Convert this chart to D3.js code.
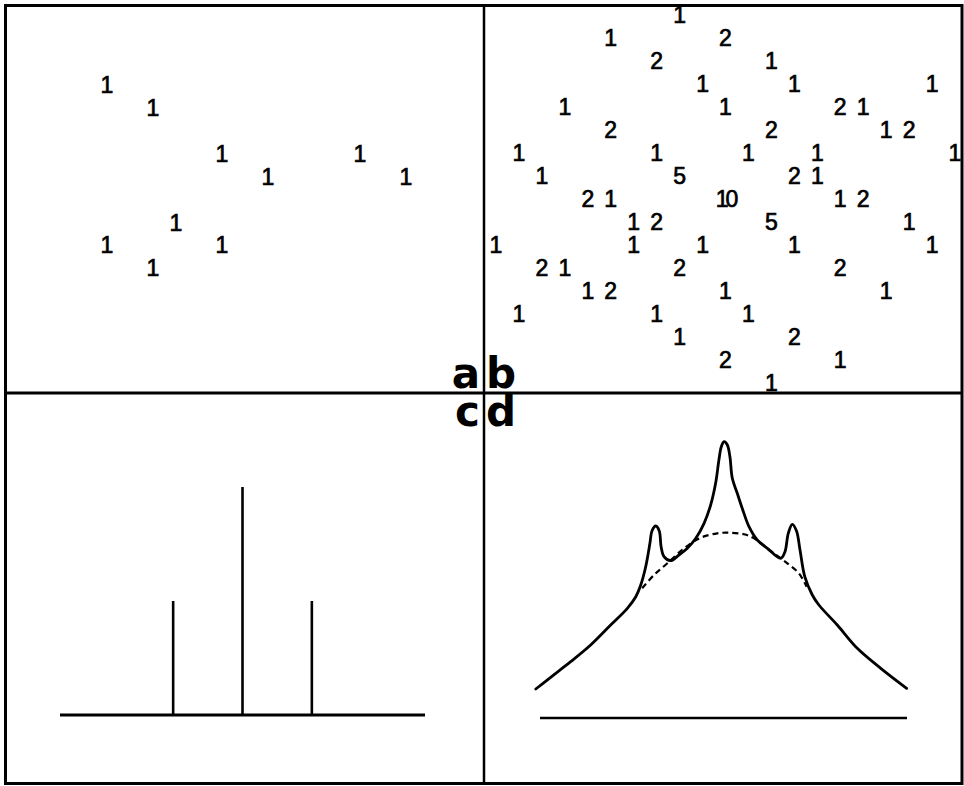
<!DOCTYPE html>
<html>
<head>
<meta charset="utf-8">
<script src="https://cdn.jsdelivr.net/npm/d3@7"></script>
<style>
  html, body { margin: 0; padding: 0; background: #fff; }
  svg { display: block; }
</style>
</head>
<body>
<svg id="canvas"></svg>
<script>
const width = 964
const height = 786

// panel a: lattice [col, row, count]
const pointsA = [
  [0, 0, "1"], [2, 1, "1"], [5, 3, "1"], [11, 3, "1"], [7, 4, "1"], [13, 4, "1"],
  [3, 6, "1"], [0, 7, "1"], [5, 7, "1"], [2, 8, "1"]
]

// panel b: lattice [col, row, count]
const pointsB = [
  [8, 0, "1"],
  [5, 1, "1"], [10, 1, "2"],
  [7, 2, "2"], [12, 2, "1"],
  [9, 3, "1"], [13, 3, "1"], [19, 3, "1"],
  [3, 4, "1"], [10, 4, "1"], [15, 4, "2"], [16, 4, "1"],
  [5, 5, "2"], [12, 5, "2"], [17, 5, "1"], [18, 5, "2"],
  [1, 6, "1"], [7, 6, "1"], [11, 6, "1"], [14, 6, "1"], [20, 6, "1"],
  [2, 7, "1"], [8, 7, "5"], [13, 7, "2"], [14, 7, "1"],
  [4, 8, "2"], [5, 8, "1"], [10, 8, "10"], [15, 8, "1"], [16, 8, "2"],
  [6, 9, "1"], [7, 9, "2"], [12, 9, "5"], [18, 9, "1"],
  [0, 10, "1"], [6, 10, "1"], [9, 10, "1"], [13, 10, "1"], [19, 10, "1"],
  [2, 11, "2"], [3, 11, "1"], [8, 11, "2"], [15, 11, "2"],
  [4, 12, "1"], [5, 12, "2"], [10, 12, "1"], [17, 12, "1"],
  [1, 13, "1"], [7, 13, "1"], [11, 13, "1"],
  [8, 14, "1"], [13, 14, "2"],
  [10, 15, "2"], [15, 15, "1"],
  [12, 16, "1"]
]

// panel c: stick spectrum
const stickPos = [-0.38, 0, 0.38]
const stickHeight = [1, 2, 1]

// panel d: observed profile (solid) and broad background (dashed)
const profileX = [-1.023, -0.942, -0.833, -0.724, -0.615, -0.524, -0.478, -0.451, -0.424, -0.401,
  -0.390, -0.369, -0.350, -0.340, -0.324, -0.288, -0.243, -0.197, -0.151, -0.106,
  -0.070, -0.043, -0.025, -0.012, 0.003, 0.021, 0.035, 0.048, 0.075, 0.102,
  0.139, 0.184, 0.239, 0.312, 0.335, 0.353, 0.375, 0.398, 0.417, 0.443,
  0.484, 0.520, 0.620, 0.729, 0.857, 0.998]
const profileY = [0.29, 0.407, 0.563, 0.73, 0.93, 1.097, 1.213, 1.33, 1.513, 1.747,
  1.87, 1.92, 1.87, 1.713, 1.613, 1.573, 1.63, 1.697, 1.797, 1.947,
  2.13, 2.347, 2.58, 2.713, 2.763, 2.73, 2.613, 2.397, 2.247, 2.097,
  1.913, 1.78, 1.697, 1.597, 1.663, 1.847, 1.937, 1.87, 1.68, 1.413,
  1.23, 1.13, 0.93, 0.697, 0.497, 0.297]
const bgX = [-0.443, -0.379, -0.306, -0.215, -0.124, -0.034, 0.030, 0.112, 0.166, 0.275, 0.348, 0.411, 0.453]
const bgY = [1.297, 1.43, 1.547, 1.697, 1.803, 1.847, 1.853, 1.837, 1.797, 1.647, 1.547, 1.447, 1.313]

const panelLabels = [
  { t: "a", x: 480, y: 388, anchor: "end" },
  { t: "b", x: 486, y: 388, anchor: "start" },
  { t: "c", x: 480, y: 426, anchor: "end" },
  { t: "d", x: 486, y: 426, anchor: "start" }
]

const svg = d3.select("#canvas").attr("width", width).attr("height", height)

svg.append("rect").attr("width", width).attr("height", height).attr("fill", "#fff")

const frame = svg.append("g").attr("fill", "none").attr("stroke", "#000")
frame.append("rect")
  .attr("x", 5.5).attr("y", 5.5).attr("width", 956.5).attr("height", 778)
  .attr("stroke-width", 3)
frame.append("line").attr("x1", 484).attr("x2", 484).attr("y1", 5).attr("y2", 784).attr("stroke-width", 2.5)
frame.append("line").attr("x1", 5).attr("x2", 962).attr("y1", 393).attr("y2", 393).attr("stroke-width", 3)

function drawLattice(points, xs, ys) {
  svg.append("g")
    .attr("font-family", "'Liberation Sans', Arial, sans-serif")
    .attr("font-size", 23)
    .attr("text-anchor", "middle")
    .attr("stroke", "#000")
    .attr("stroke-width", 0.7)
    .selectAll("text")
    .data(points)
    .enter().append("text")
    .attr("x", d => xs(d[0]))
    .attr("y", d => ys(d[1]))
    .attr("dy", "0.36em")
    .attr("letter-spacing", d => d[2].length > 1 ? -3 : 0)
    .text(d => d[2])
}

// a
const xa = d3.scaleLinear().domain([0, 13]).range([107, 406])
const ya = d3.scaleLinear().domain([0, 8]).range([85, 268])
drawLattice(pointsA, xa, ya)

// b
const xb = d3.scaleLinear().domain([0, 20]).range([496, 955])
const yb = d3.scaleLinear().domain([0, 16]).range([15, 383])
drawLattice(pointsB, xb, yb)

// c
const xc = d3.scaleLinear().domain([-1, 1]).range([60, 425])
const yc = d3.scaleLinear().domain([0, 2]).range([715, 487])
const gc = svg.append("g").attr("stroke", "#000")
gc.append("line")
  .attr("x1", xc(-1)).attr("x2", xc(1)).attr("y1", yc(0)).attr("y2", yc(0))
  .attr("stroke-width", 3)
gc.selectAll("line.stick")
  .data(stickPos)
  .enter().append("line")
  .attr("class", "stick")
  .attr("x1", d => xc(d)).attr("x2", d => xc(d))
  .attr("y1", yc(0))
  .attr("y2", (d, i) => yc(stickHeight[i]))
  .attr("stroke-width", 2.6)

// d
const xd = d3.scaleLinear().domain([-1, 1]).range([540, 907])
const yd = d3.scaleLinear().domain([0, 3]).range([718, 418])
const line = d3.line()
  .x(d => xd(d[0]))
  .y(d => yd(d[1]))
  .curve(d3.curveCatmullRom.alpha(0.5))

const gd = svg.append("g").attr("fill", "none").attr("stroke", "#000")
gd.append("line")
  .attr("x1", xd(-1)).attr("x2", xd(1)).attr("y1", yd(0)).attr("y2", yd(0))
  .attr("stroke-width", 2.5)
gd.append("path")
  .attr("d", line(bgX.map((x, i) => [x, bgY[i]])))
  .attr("stroke-width", 2.2)
  .attr("stroke-dasharray", "6,4")
gd.append("path")
  .attr("d", line(profileX.map((x, i) => [x, profileY[i]])))
  .attr("stroke-width", 2.8)
  .attr("stroke-linejoin", "round")
  .attr("stroke-linecap", "round")

// panel letters
svg.append("g")
  .attr("font-family", "'DejaVu Sans', sans-serif")
  .attr("font-weight", "bold")
  .attr("font-size", 42)
  .selectAll("text")
  .data(panelLabels)
  .enter().append("text")
  .attr("x", d => d.x)
  .attr("y", d => d.y)
  .attr("text-anchor", d => d.anchor)
  .text(d => d.t)
</script>
</body>
</html>
